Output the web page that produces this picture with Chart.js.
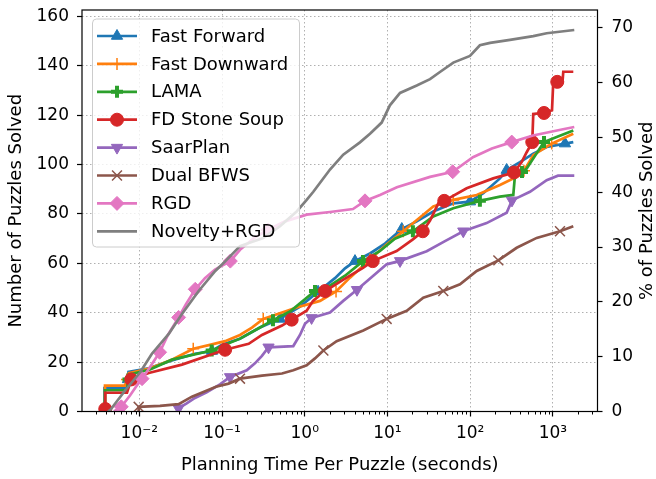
<!DOCTYPE html>
<html lang="en">
<head>
<meta charset="UTF-8">
<title>Puzzles solved vs planning time</title>
<script src="https://cdn.jsdelivr.net/npm/chart.js@4"></script>
<style>
  html, body { margin: 0; padding: 0; background: #fff; }
  #wrap { width: 656px; height: 479px; }
</style>
</head>
<body>
<div id="wrap"><canvas id="plot"></canvas></div>
<script>
// planning time (s) vs number of puzzles solved
const ffTime   = [0.00379, 0.00379, 0.0071, 0.0073, 0.0074, 0.0130, 0.0248, 0.0471, 0.0756, 0.0999, 0.165, 0.288, 0.502, 0.876, 1.45, 2.32, 3.07, 4.05, 6.15, 9.33, 14.9, 22.6, 35.8, 62.5, 99.4, 144, 229, 276, 400, 579, 841, 1400, 1764];
const ffSolved = [1, 9.5, 9.5, 13, 16, 17.5, 20.7, 23.4, 24.5, 27, 29.5, 34, 37.5, 42.5, 48.5, 54, 58, 60.9, 64, 68, 73.9, 77, 81, 84.3, 85, 88.4, 94.4, 97.8, 101, 104.4, 107.1, 108.5, 109.1];
const ffMarks  = [0, 3, 8, 12, 14, 17, 20, 24, 27, 31];

const fdTime   = [0.00385, 0.00385, 0.00671, 0.0071, 0.0075, 0.0135, 0.0248, 0.0449, 0.0715, 0.109, 0.165, 0.230, 0.315, 0.799, 1.53, 2.39, 3.52, 6.15, 9.78, 15.5, 27.1, 35.8, 62.5, 120, 229, 400, 447, 579, 967, 1764];
const fdSolved = [1, 10.5, 10.5, 13, 15.5, 17.5, 21, 25.4, 27, 28.5, 31, 34, 37.5, 42.1, 44.8, 48.6, 54.2, 61.6, 67.6, 73, 79.7, 83, 85.7, 87.7, 91.7, 95.7, 97.5, 103.8, 108.5, 112.5];
const fdMarks  = [0, 3, 7, 12, 15, 17, 19, 22, 26, 28];

const lamaTime   = [0.00385, 0.00385, 0.0071, 0.0074, 0.00772, 0.0135, 0.0248, 0.0750, 0.109, 0.165, 0.288, 0.413, 0.663, 1.33, 2.02, 3.07, 5.06, 8.12, 12.3, 20.3, 35.8, 62.5, 131, 229, 332, 348, 423, 482, 780, 1111, 1764];
const lamaSolved = [1, 8.6, 8.6, 13, 15, 17, 21, 24.7, 27, 29.5, 34, 37, 40.5, 48.8, 51, 55, 60.9, 65, 70, 73, 79, 82.3, 85.3, 87, 87.7, 95.7, 97, 98.4, 109.1, 111.2, 113.8];
const lamaMarks  = [0, 3, 7, 11, 13, 16, 19, 22, 26, 28];

const fdssTime   = [0.00388, 0.00388, 0.0071, 0.0080, 0.0130, 0.0328, 0.109, 0.210, 0.304, 0.531, 0.695, 1.055, 1.26, 1.76, 3.21, 5.06, 6.63, 12.9, 20.3, 26.7, 32.7, 41.2, 48.6, 90.7, 190, 338, 419, 482, 563, 579, 780, 975, 1010, 1129, 1306, 1335, 1764];
const fdssSolved = [1, 7.6, 7.6, 13, 15.6, 19, 25, 27.4, 31, 34.8, 37.2, 40.8, 44.8, 48.8, 54.2, 58.2, 60.9, 65, 69.7, 73, 77.3, 84.3, 85.3, 90.4, 94.4, 96.8, 101, 105, 109.1, 120.5, 120.9, 122, 133.5, 133.5, 133.5, 137.6, 137.6];
const fdssMarks  = [0, 3, 6, 10, 13, 16, 19, 22, 25, 28, 30, 33];

const saarTime   = [0.0294, 0.0298, 0.0374, 0.0471, 0.0652, 0.0945, 0.125, 0.199, 0.250, 0.304, 0.365, 0.727, 0.876, 1.007, 1.21, 2.02, 2.92, 4.28, 6.74, 9.78, 14.2, 29.8, 49.6, 82.5, 158, 276, 320, 528, 841, 1152, 1813];
const saarSolved = [0, 1.3, 3.3, 5.5, 7.8, 11, 14, 16.7, 19.5, 22.5, 26, 26.5, 31, 35.5, 37.9, 40.1, 44.8, 49.3, 55, 59.6, 61, 64.9, 69, 73, 76.3, 80.5, 85.5, 89, 93.7, 95.5, 95.5];
const saarMarks  = [1, 6, 10, 14, 17, 20, 23, 26];

const bfwsTime   = [0.00977, 0.00983, 0.0178, 0.0299, 0.0433, 0.0845, 0.120, 0.165, 0.304, 0.531, 0.727, 1.055, 1.33, 1.68, 2.43, 5.10, 9.78, 17.1, 27.1, 47.3, 75.3, 120, 219, 365, 637, 1218, 1764];
const bfwsSolved = [0, 1.9, 2.3, 3, 6, 10, 11.3, 13.3, 14.5, 15.4, 16.7, 18.7, 21.5, 24.7, 28.5, 32.8, 37.5, 40.8, 46.1, 48.8, 51.5, 56.9, 61.2, 66.3, 70.3, 73, 75];
const bfwsMarks  = [1, 7, 13, 16, 19, 22, 25];

const rgdTime   = [0.00494, 0.00606, 0.00772, 0.00912, 0.0108, 0.0135, 0.0176, 0.0222, 0.0299, 0.0367, 0.0475, 0.0622, 0.0822, 0.126, 0.165, 0.250, 0.359, 0.577, 1.055, 2.02, 3.83, 5.35, 8.12, 13.0, 32.7, 61.5, 108, 183, 318, 574, 1324, 1813];
const rgdSolved = [0, 1.9, 6.5, 10, 13.3, 18, 24, 31, 38.1, 43.5, 49.5, 54, 57.5, 60.9, 65.5, 70.5, 73.5, 77, 79.7, 80.8, 82, 85.3, 87.7, 90.8, 95, 97.1, 103, 106.5, 109.1, 111.8, 114.3, 115.2];
const rgdMarks  = [1, 4, 6, 8, 10, 13, 16, 21, 25, 28];

const novTime   = [0.00418, 0.00446, 0.00677, 0.0103, 0.0142, 0.0227, 0.0328, 0.0522, 0.0829, 0.110, 0.165, 0.315, 0.502, 0.799, 1.055, 1.27, 2.02, 2.92, 4.65, 6.15, 8.51, 10.7, 14.2, 22.6, 32.7, 43.1, 62.5, 99.4, 131, 174, 303, 579, 841, 1813];
const novSolved = [0, 0.6, 8.6, 16, 23.4, 31.4, 39.5, 48.8, 56.9, 60.9, 67, 70.3, 75, 81, 85.7, 89, 98, 104, 109, 112.5, 117, 124, 129, 132, 134.6, 137.5, 141.3, 144, 148.3, 149.3, 150.5, 152, 153.2, 154.5];

const totalPuzzles = 222;
const xMin = 0.00203, xMax = 3460;
const yMax = 162.6;
const xTickValues = [1e-2, 1e-1, 1, 10, 100, 1000];
const xTickLabels = ['10\u207B\u00B2', '10\u207B\u00B9', '10\u2070', '10\u00B9', '10\u00B2', '10\u00B3'];

// minor ticks of the log axis: 2..9 x 10^k
const xMinor = [];
for (let e = -3; e <= 3; e++) {
  for (let m = 2; m <= 9; m++) {
    const v = Number((m * Math.pow(10, e)).toPrecision(6));
    if (v > xMin && v < xMax) xMinor.push(v);
  }
}
const isMajor = v => xTickValues.some(t => Math.abs(t - v) / t < 1e-6);

Chart.defaults.font.family = '"DejaVu Sans", sans-serif';
Chart.defaults.font.size = 17;
Chart.defaults.color = '#000';

function series(label, time, solved, marks, color, mk) {
  return {
    label,
    data: time.map((t, i) => ({ x: t, y: solved[i] })),
    borderColor: color,
    backgroundColor: color,
    borderWidth: 2.7,
    tension: 0,
    fill: false,
    pointStyle: mk.style,
    pointRotation: mk.rot || 0,
    pointBackgroundColor: color,
    pointBorderColor: color,
    pointBorderWidth: mk.bw,
    pointRadius: c => marks.includes(c.dataIndex) ? mk.r : 0,
    pointHoverRadius: c => marks.includes(c.dataIndex) ? mk.r : 0,
    legendR: mk.r
  };
}

const datasets = [
  series('Fast Forward', ffTime, ffSolved, ffMarks, '#1f77b4', { style: 'triangle', r: 6.5, bw: 1 }),
  series('Fast Downward', fdTime, fdSolved, fdMarks, '#ff7f0e', { style: 'cross', r: 6, bw: 1.5 }),
  series('LAMA', lamaTime, lamaSolved, lamaMarks, '#2ca02c', { style: 'cross', r: 6, bw: 4 }),
  series('FD Stone Soup', fdssTime, fdssSolved, fdssMarks, '#d62728', { style: 'circle', r: 6.5, bw: 1 }),
  series('SaarPlan', saarTime, saarSolved, saarMarks, '#9467bd', { style: 'triangle', rot: 180, r: 6.5, bw: 1 }),
  series('Dual BFWS', bfwsTime, bfwsSolved, bfwsMarks, '#8c564b', { style: 'crossRot', r: 7, bw: 1.5 }),
  series('RGD', rgdTime, rgdSolved, rgdMarks, '#e377c2', { style: 'rectRot', r: 7, bw: 1 }),
  series('Novelty+RGD', novTime, novSolved, [], '#7f7f7f', { style: 'circle', r: 0, bw: 0 })
];
datasets.forEach((d, i) => { d.order = -i; });

// keep the plot box where the reference has it
const noPad = s => { s.paddingTop = 0; s.paddingBottom = 0; s.paddingLeft = 0; s.paddingRight = 0; };

const extras = {
  id: 'extras',
  afterDraw(chart) {
    const { ctx, chartArea: a, scales } = chart;
    ctx.save();
    // minor ticks
    ctx.strokeStyle = '#000';
    ctx.lineWidth = 1;
    for (const v of xMinor) {
      const px = Math.round(scales.x.getPixelForValue(v)) + 0.5;
      ctx.beginPath();
      ctx.moveTo(px, a.bottom);
      ctx.lineTo(px, a.bottom + 3);
      ctx.stroke();
    }
    // frame
    ctx.lineWidth = 1.2;
    ctx.strokeRect(a.left, a.top, a.right - a.left, a.bottom - a.top);

    // right axis title (reads bottom to top like the left one)
    ctx.font = '18px "DejaVu Sans"';
    ctx.fillStyle = '#000';
    ctx.textAlign = 'center';
    ctx.textBaseline = 'middle';
    ctx.save();
    ctx.translate(chart.width - 9, (a.top + a.bottom) / 2);
    ctx.rotate(-Math.PI / 2);
    ctx.fillText('% of Puzzles Solved', 0, 0);
    ctx.restore();

    // legend
    const bx = a.left + 10.5, by = a.top + 9, bw = 207, bh = 228;
    ctx.beginPath();
    if (ctx.roundRect) ctx.roundRect(bx, by, bw, bh, 4); else ctx.rect(bx, by, bw, bh);
    ctx.fillStyle = 'rgba(255,255,255,0.8)';
    ctx.fill();
    ctx.strokeStyle = '#cccccc';
    ctx.lineWidth = 1;
    ctx.stroke();
    ctx.textAlign = 'left';
    chart.data.datasets.forEach((d, i) => {
      const y = by + 17 + i * 27.9;
      ctx.strokeStyle = d.borderColor;
      ctx.lineWidth = d.borderWidth;
      ctx.beginPath();
      ctx.moveTo(bx + 4.5, y);
      ctx.lineTo(bx + 44.5, y);
      ctx.stroke();
      if (d.legendR > 0) {
        ctx.fillStyle = d.pointBackgroundColor;
        ctx.strokeStyle = d.pointBorderColor;
        ctx.lineWidth = d.pointBorderWidth;
        Chart.helpers.drawPoint(ctx, {
          pointStyle: d.pointStyle, rotation: d.pointRotation,
          radius: d.legendR, borderWidth: d.pointBorderWidth
        }, bx + 24.5, y);
      }
      ctx.fillStyle = '#000';
      ctx.fillText(d.label, bx + 58.5, y + 1);
    });
    ctx.restore();
  }
};

new Chart(document.getElementById('plot'), {
  type: 'line',
  data: { datasets },
  plugins: [extras],
  options: {
    responsive: true,
    maintainAspectRatio: false,
    animation: false,
    events: [],
    layout: { padding: { top: 7, left: 0, right: 0, bottom: 0 } },
    plugins: { legend: { display: false }, tooltip: { enabled: false } },
    scales: {
      x: {
        type: 'logarithmic',
        min: xMin,
        max: xMax,
        afterBuildTicks: s => {
          s.ticks = xTickValues.concat(xMinor).sort((p, q) => p - q).map(v => ({ value: v }));
        },
        afterFit: s => { s.height = 67.5; noPad(s); },
        grid: {
          color: c => (c.tick && isMajor(c.tick.value)) ? '#b0b0b0' : 'rgba(0,0,0,0)',
          tickColor: c => (c.tick && isMajor(c.tick.value)) ? '#000' : 'rgba(0,0,0,0)',
          lineWidth: 1,
          tickLength: 5,
          tickWidth: 1.2
        },
        border: { display: false, dash: [1.5, 2.5] },
        ticks: {
          autoSkip: false,
          maxRotation: 0,
          padding: 7,
          callback: v => {
            const i = xTickValues.findIndex(t => Math.abs(t - v) / t < 1e-6);
            return i >= 0 ? xTickLabels[i] : '';
          }
        },
        title: {
          display: true,
          text: 'Planning Time Per Puzzle (seconds)',
          font: { size: 18 },
          padding: { top: 0, bottom: 3 }
        }
      },
      y: {
        position: 'left',
        min: 0,
        max: yMax,
        afterFit: s => { s.width = 82; noPad(s); },
        ticks: { stepSize: 20, includeBounds: false, padding: 8 },
        grid: { color: '#b0b0b0', tickColor: '#000', lineWidth: 1, tickLength: 5, tickWidth: 1.2 },
        border: { display: false, dash: [1.5, 2.5] },
        title: {
          display: true,
          text: 'Number of Puzzles Solved',
          font: { size: 18 },
          padding: { top: 6, bottom: 0 }
        }
      },
      y2: {
        position: 'right',
        min: 0,
        max: yMax * 100 / totalPuzzles,
        afterFit: s => { s.width = 58.5; noPad(s); },
        ticks: { stepSize: 10, includeBounds: false, padding: 9 },
        grid: { drawOnChartArea: false, tickColor: '#000', tickLength: 5, tickWidth: 1.2 },
        border: { display: false }
      }
    }
  }
});
</script>
</body>
</html>
